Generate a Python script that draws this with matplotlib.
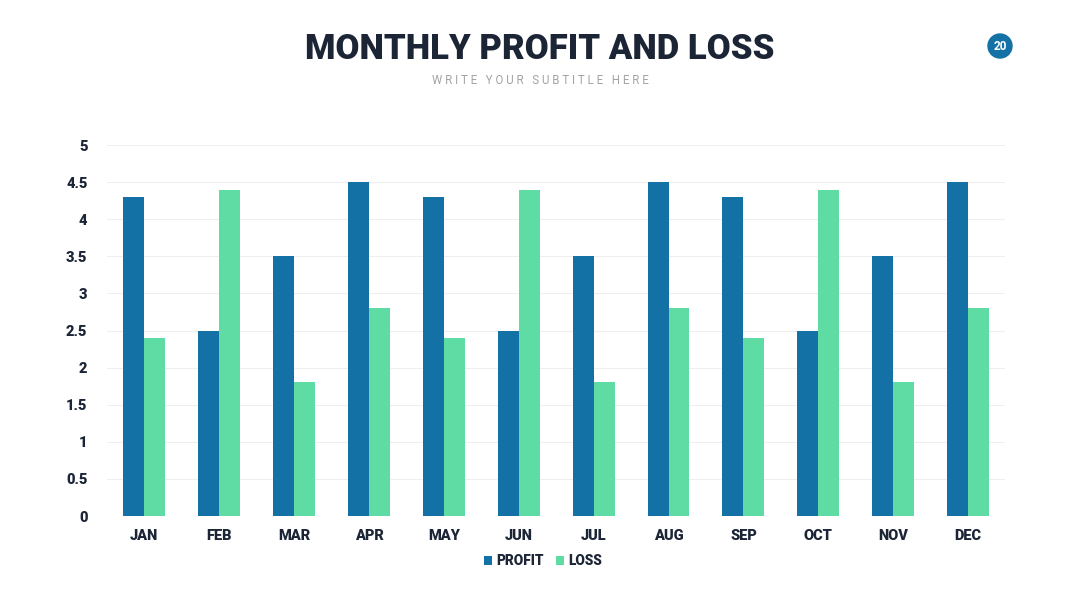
import matplotlib
matplotlib.use("Agg")
import matplotlib.pyplot as plt
import numpy as np
from matplotlib.patches import Ellipse

months = ["JAN", "FEB", "MAR", "APR", "MAY", "JUN", "JUL", "AUG", "SEP", "OCT", "NOV", "DEC"]
profit = [4.3, 2.5, 3.5, 4.5, 4.3, 2.5, 3.5, 4.5, 4.3, 2.5, 3.5, 4.5]
loss = [2.4, 4.4, 1.8, 2.8, 2.4, 4.4, 1.8, 2.8, 2.4, 4.4, 1.8, 2.8]
yticks = [0, 0.5, 1, 1.5, 2, 2.5, 3, 3.5, 4, 4.5, 5]
ytick_labels = ["0", "0.5", "1", "1.5", "2", "2.5", "3", "3.5", "4", "4.5", "5"]

PROFIT_C = "#1471A5"
LOSS_C = "#5EDCA4"
DARK = "#1C2536"

plt.rcParams['font.family'] = ['Roboto', 'DejaVu Sans']

fig = plt.figure(figsize=(10.8, 6.08), dpi=100)
ax = fig.add_axes([0.099, 0.1513, 0.832, 0.6102])

x = np.arange(len(months))
w = 0.28
ax.bar(x - w / 2, profit, width=w, color=PROFIT_C, label="PROFIT", zorder=3)
ax.bar(x + w / 2, loss, width=w, color=LOSS_C, label="LOSS", zorder=3)

ax.set_xlim(-0.5, len(months) - 0.5)
ax.set_ylim(0, 5)
ax.set_yticks(yticks)
ax.set_yticklabels(ytick_labels)
ax.set_xticks(x)
ax.set_xticklabels(months)
ax.grid(axis='y', color="#EFEFEF", linewidth=0.8, zorder=0)
for s in ax.spines.values():
    s.set_visible(False)
ax.tick_params(axis='both', length=0, labelsize=10.5, labelcolor=DARK)
ax.tick_params(axis='y', pad=14)
ax.tick_params(axis='x', pad=9)
for lab in ax.get_xticklabels() + ax.get_yticklabels():
    lab.set_fontweight('black')

leg = ax.legend(loc='upper center', bbox_to_anchor=(0.485, -0.07), ncol=2, frameon=False,
                handlelength=0.6, handleheight=0.6, handletextpad=0.3, columnspacing=0.9,
                prop={'weight': 'black', 'size': 9.8})
for t in leg.get_texts():
    t.set_color(DARK)

fig.text(0.5, 1 - 49.5 / 608, "MONTHLY PROFIT AND LOSS", ha='center', va='center',
         fontsize=25, fontweight='black', color=DARK)
fig.text(0.5, 1 - 80 / 608, " ".join("WRITE YOUR SUBTITLE HERE"),
         ha='center', va='center', fontsize=8.3, color="#A3A3A3")

badge = Ellipse((1000 / 1080, 1 - 46 / 608), width=24 / 1080, height=24 / 608,
                transform=fig.transFigure, color=PROFIT_C, zorder=5)
fig.patches.append(badge)
fig.text(1000 / 1080, 1 - 46 / 608, "20", ha='center', va='center', fontsize=8.5,
         fontweight='bold', color='white', zorder=6)

fig.savefig("out.png", dpi=100)
